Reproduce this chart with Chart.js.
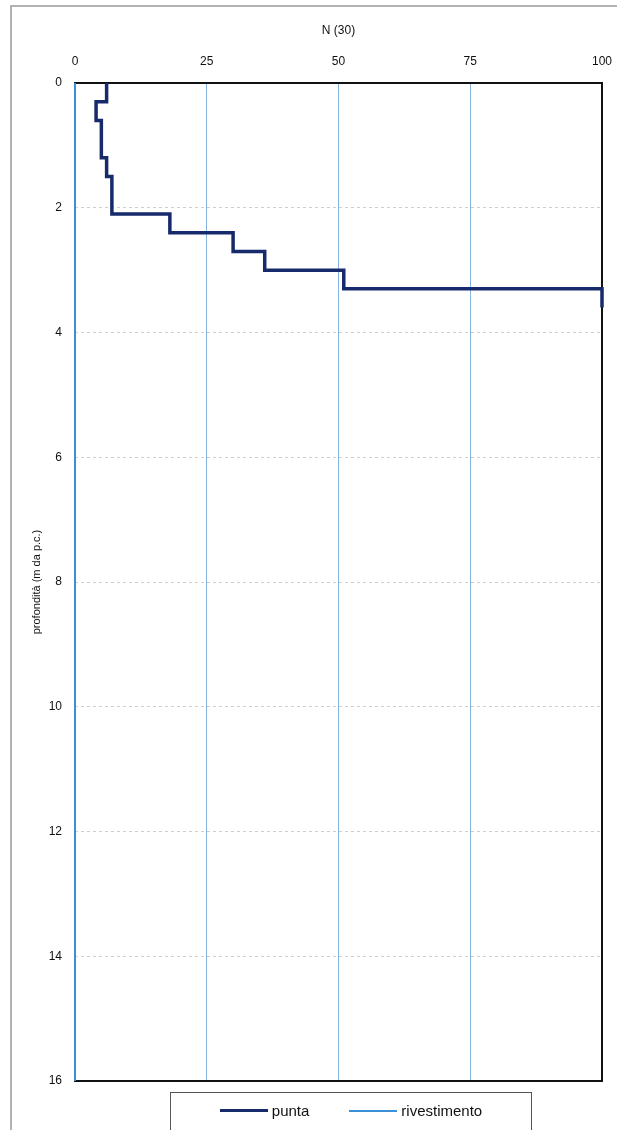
<!DOCTYPE html>
<html>
<head>
<meta charset="utf-8">
<script src="https://cdn.jsdelivr.net/npm/chart.js@4"></script>
<style>
  body { margin: 0; background: #fff; }
  #wrap { position: relative; width: 617px; height: 1130px; }
  #legend {
    position: absolute; left: 170px; top: 1092px; width: 362px; height: 42px;
    border: 1.5px solid #555; border-bottom: none; box-sizing: border-box;
    display: flex; justify-content: center; align-items: center; gap: 40px;
    font-family: "Liberation Sans", Arial, sans-serif; font-size: 15px; color: #111;
    padding-bottom: 6px;
  }
  #legend span.item { display: flex; align-items: center; }
  #legend span.swatch { display: inline-block; width: 48px; margin-right: 4px; }
</style>
</head>
<body>
<div id="wrap">
  <canvas id="soundChart" width="617" height="1130"></canvas>
  <div id="legend"></div>
</div>
<script>
// penetrometer log: blow count N(30) per depth interval
const depthTop    = [0, 0.3, 0.6, 1.2, 1.5, 2.1, 2.4, 2.7, 3.0, 3.3];
const depthBottom = [0.3, 0.6, 1.2, 1.5, 2.1, 2.4, 2.7, 3.0, 3.3, 3.6];
const puntaN      = [6, 4, 5, 6, 7, 18, 30, 36, 51, 100];

const rivestDepth = [0, 16];
const rivestN     = [0, 0];

const xTicks = [0, 25, 50, 75, 100];
const yTicks = [0, 2, 4, 6, 8, 10, 12, 14, 16];

// turn the intervals into step vertices
const puntaPts = [];
for (let i = 0; i < puntaN.length; i++) {
  puntaPts.push({ x: puntaN[i], y: depthTop[i] });
  puntaPts.push({ x: puntaN[i], y: depthBottom[i] });
}
const rivestPts = rivestN.map((n, i) => ({ x: n, y: rivestDepth[i] }));

const datasets = [
  { label: 'punta', data: puntaPts, borderColor: '#172a6b', borderWidth: 3.5 },
  { label: 'rivestimento', data: rivestPts, borderColor: '#3b8fd6', borderWidth: 2 }
];

// frame around the page and box around the plot (under the lines)
const frame = {
  id: 'frame',
  beforeDatasetsDraw(chart) {
    const c = chart.ctx, a = chart.chartArea;
    c.save();
    c.strokeStyle = '#999';
    c.lineWidth = 1.5;
    c.beginPath();
    c.moveTo(11, 1130); c.lineTo(11, 6); c.lineTo(617, 6);
    c.stroke();
    c.strokeStyle = '#111';
    c.lineWidth = 2;
    c.strokeRect(a.left, a.top, a.right - a.left, a.bottom - a.top);
    c.restore();
  }
};

const font = { family: '"Liberation Sans", Arial, sans-serif', size: 12 };

new Chart(document.getElementById('soundChart'), {
  type: 'line',
  data: {
    datasets: datasets.map(d => ({
      ...d, showLine: true, fill: false, pointRadius: 0, tension: 0,
      borderCapStyle: 'butt', borderJoinStyle: 'miter', clip: 3
    }))
  },
  options: {
    responsive: false,
    animation: false,
    layout: { padding: { left: 12, right: 15, top: 10, bottom: 49 } },
    plugins: { legend: { display: false }, tooltip: { enabled: false } },
    scales: {
      x: {
        type: 'linear', position: 'top', min: 0, max: 100,
        afterBuildTicks: s => { s.ticks = xTicks.map(v => ({ value: v })); },
        afterFit: s => { s.height = 73; s.paddingLeft = 0; s.paddingRight = 0; },
        ticks: { font, color: '#111', padding: 14 },
        grid: { drawTicks: false, color: '#86b4e0', lineWidth: 1 },
        border: { display: false },
        title: { display: true, text: 'N (30)', font, color: '#111', padding: { top: 13, bottom: 0 } }
      },
      y: {
        type: 'linear', reverse: true, min: 0, max: 16,
        afterBuildTicks: s => { s.ticks = yTicks.map(v => ({ value: v })); },
        afterFit: s => { s.width = 63; s.paddingTop = 0; s.paddingBottom = 0; },
        ticks: { font, color: '#111', padding: 13 },
        grid: { drawTicks: false, color: '#cfcfcf', lineWidth: 1 },
        border: { display: false, dash: [3, 3] },
        title: {
          display: true, text: 'profondità (m da p.c.)',
          font: { family: font.family, size: 11 }, color: '#111', padding: { top: 18, bottom: 0 }
        }
      }
    }
  },
  plugins: [frame]
});

// legend built from the datasets
const leg = document.getElementById('legend');
datasets.forEach(d => {
  const item = document.createElement('span');
  item.className = 'item';
  const sw = document.createElement('span');
  sw.className = 'swatch';
  sw.style.borderTop = (d.borderWidth) + 'px solid ' + d.borderColor;
  item.appendChild(sw);
  item.appendChild(document.createTextNode(d.label));
  leg.appendChild(item);
});
</script>
</body>
</html>
